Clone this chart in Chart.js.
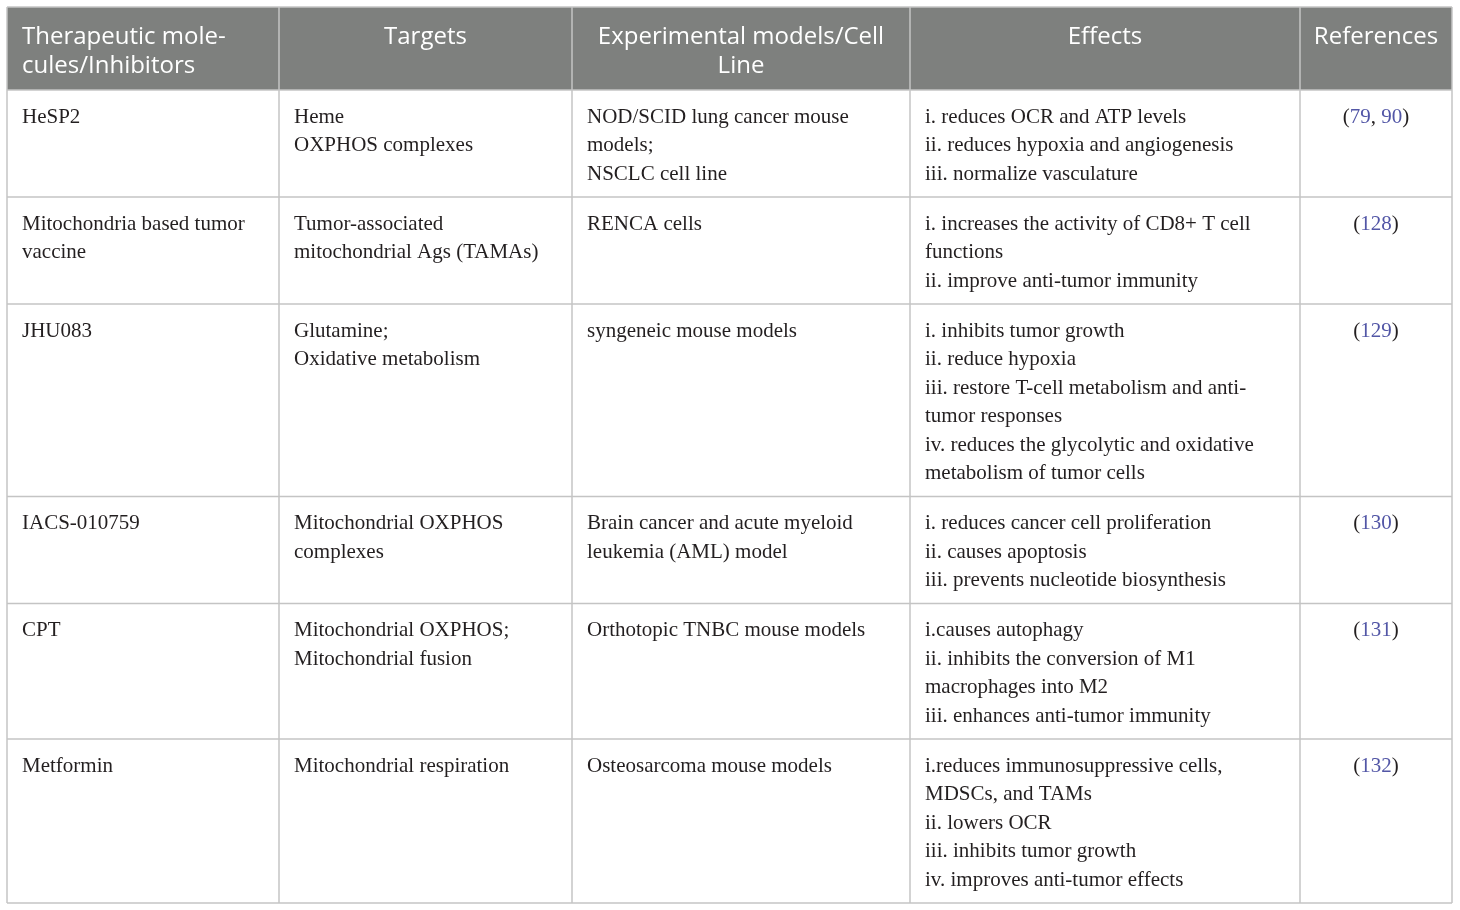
<!DOCTYPE html>
<html><head><meta charset="utf-8">
<script src="https://cdn.jsdelivr.net/npm/chart.js@4.4.1/dist/chart.umd.min.js"></script>
<style>html,body{margin:0;padding:0;background:#fff;overflow:hidden}#wrap{width:1460px;height:910px;position:relative}</style>
</head><body><div id="wrap"><canvas id="c" width="1460" height="910"></canvas></div>
<script>
// ---- table content ----
const headers = [["Therapeutic mole-","cules/Inhibitors"],["Targets"],["Experimental models/Cell","Line"],["Effects"],["References"]];
const molecules = [["HeSP2"],["Mitochondria based tumor","vaccine"],["JHU083"],["IACS-010759"],["CPT"],["Metformin"]];
const targets = [["Heme","OXPHOS complexes"],["Tumor-associated","mitochondrial Ags (TAMAs)"],["Glutamine;","Oxidative metabolism"],["Mitochondrial OXPHOS","complexes"],["Mitochondrial OXPHOS;","Mitochondrial fusion"],["Mitochondrial respiration"]];
const models = [["NOD/SCID lung cancer mouse","models;","NSCLC cell line"],["RENCA cells"],["syngeneic mouse models"],["Brain cancer and acute myeloid","leukemia (AML) model"],["Orthotopic TNBC mouse models"],["Osteosarcoma mouse models"]];
const effects = [
  ["i. reduces OCR and ATP levels","ii. reduces hypoxia and angiogenesis","iii. normalize vasculature"],
  ["i. increases the activity of CD8+ T cell","functions","ii. improve anti-tumor immunity"],
  ["i. inhibits tumor growth","ii. reduce hypoxia","iii. restore T-cell metabolism and anti-","tumor responses","iv. reduces the glycolytic and oxidative","metabolism of tumor cells"],
  ["i. reduces cancer cell proliferation","ii. causes apoptosis","iii. prevents nucleotide biosynthesis"],
  ["i.causes autophagy","ii. inhibits the conversion of M1","macrophages into M2","iii. enhances anti-tumor immunity"],
  ["i.reduces immunosuppressive cells,","MDSCs, and TAMs","ii. lowers OCR","iii. inhibits tumor growth","iv. improves anti-tumor effects"]
];
const references = [[79,90],[128],[129],[130],[131],[132]];

// ---- layout (not data) ----
const COL_EDGES = [7, 279, 572, 910, 1300, 1452];
const TABLE_TOP = 7, HEADER_H = 83, HEADER_LH = 29.5, HEADER_FIRST = 30;
const LINE_H = 28.5, ROW_PAD = 21.5, FIRST_LINE = 27, CELL_PAD = 15;
const HEADER_BG = '#7e807e', GRID = '#c4c4c4', TEXT = '#231f20', LINK = '#5256a6';
const HEADER_FONT = '24px "Open Sans"', BODY_FONT = '21px "Liberation Serif"';

const bodyCols = [molecules, targets, models, effects];
const rowTops = [TABLE_TOP + HEADER_H];
for (let r = 0; r < molecules.length; r++) {
  const n = Math.max(...bodyCols.map(c => c[r].length), 1);
  rowTops.push(rowTops[r] + ROW_PAD + n * LINE_H);
}

const tablePlugin = {
  id: 'table',
  beforeDatasetsDraw(chart) {
    const {ctx, scales: {x, y}} = chart;
    ctx.save();
    ctx.fillStyle = HEADER_BG;
    ctx.fillRect(x.getPixelForValue(COL_EDGES[0]), y.getPixelForValue(TABLE_TOP),
      x.getPixelForValue(COL_EDGES[5]) - x.getPixelForValue(COL_EDGES[0]),
      y.getPixelForValue(TABLE_TOP + HEADER_H) - y.getPixelForValue(TABLE_TOP));
    ctx.strokeStyle = GRID; ctx.lineWidth = 1.5;
    const yb = rowTops[rowTops.length - 1];
    COL_EDGES.forEach(cx => {
      ctx.beginPath();
      ctx.moveTo(x.getPixelForValue(cx), y.getPixelForValue(TABLE_TOP));
      ctx.lineTo(x.getPixelForValue(cx), y.getPixelForValue(yb));
      ctx.stroke();
    });
    [TABLE_TOP, ...rowTops].forEach(ry => {
      ctx.beginPath();
      ctx.moveTo(x.getPixelForValue(COL_EDGES[0]), y.getPixelForValue(ry));
      ctx.lineTo(x.getPixelForValue(COL_EDGES[5]), y.getPixelForValue(ry));
      ctx.stroke();
    });
    ctx.restore();
  },
  afterDatasetsDraw(chart) {
    const {ctx, scales: {x, y}} = chart;
    ctx.save();
    ctx.textBaseline = 'middle';
    ctx.font = HEADER_FONT; ctx.fillStyle = '#ffffff';
    headers.forEach((lines, c) => {
      lines.forEach((t, i) => {
        const yy = y.getPixelForValue(TABLE_TOP + HEADER_FIRST + i * HEADER_LH);
        if (c === 0) { ctx.textAlign = 'left'; ctx.fillText(t, x.getPixelForValue(COL_EDGES[0] + CELL_PAD), yy); }
        else { ctx.textAlign = 'center'; ctx.fillText(t, x.getPixelForValue((COL_EDGES[c] + COL_EDGES[c + 1]) / 2), yy); }
      });
    });
    ctx.font = BODY_FONT; ctx.fillStyle = TEXT; ctx.textAlign = 'left';
    bodyCols.forEach((col, c) => {
      col.forEach((lines, r) => {
        lines.forEach((t, i) => {
          ctx.fillText(t, x.getPixelForValue(COL_EDGES[c] + CELL_PAD), y.getPixelForValue(rowTops[r] + FIRST_LINE + i * LINE_H));
        });
      });
    });
    references.forEach((refs, r) => {
      const parts = [['(', TEXT]];
      refs.forEach((n, k) => { if (k) parts.push([', ', TEXT]); parts.push([String(n), LINK]); });
      parts.push([')', TEXT]);
      const total = parts.reduce((s, p) => s + ctx.measureText(p[0]).width, 0);
      let px = x.getPixelForValue((COL_EDGES[4] + COL_EDGES[5]) / 2) - total / 2;
      const yy = y.getPixelForValue(rowTops[r] + FIRST_LINE);
      parts.forEach(([t, col]) => { ctx.fillStyle = col; ctx.fillText(t, px, yy); px += ctx.measureText(t).width; });
    });
    ctx.restore();
  }
};

new Chart(document.getElementById('c'), {
  type: 'scatter',
  data: { datasets: [{ data: [], pointRadius: 0 }] },
  options: {
    responsive: false, animation: false, devicePixelRatio: 1,
    layout: { padding: 0 },
    scales: {
      x: { type: 'linear', min: 0, max: 1460, display: false },
      y: { type: 'linear', min: 0, max: 910, reverse: true, display: false }
    },
    plugins: { legend: { display: false }, tooltip: { enabled: false } }
  },
  plugins: [tablePlugin]
});
</script></body></html>
